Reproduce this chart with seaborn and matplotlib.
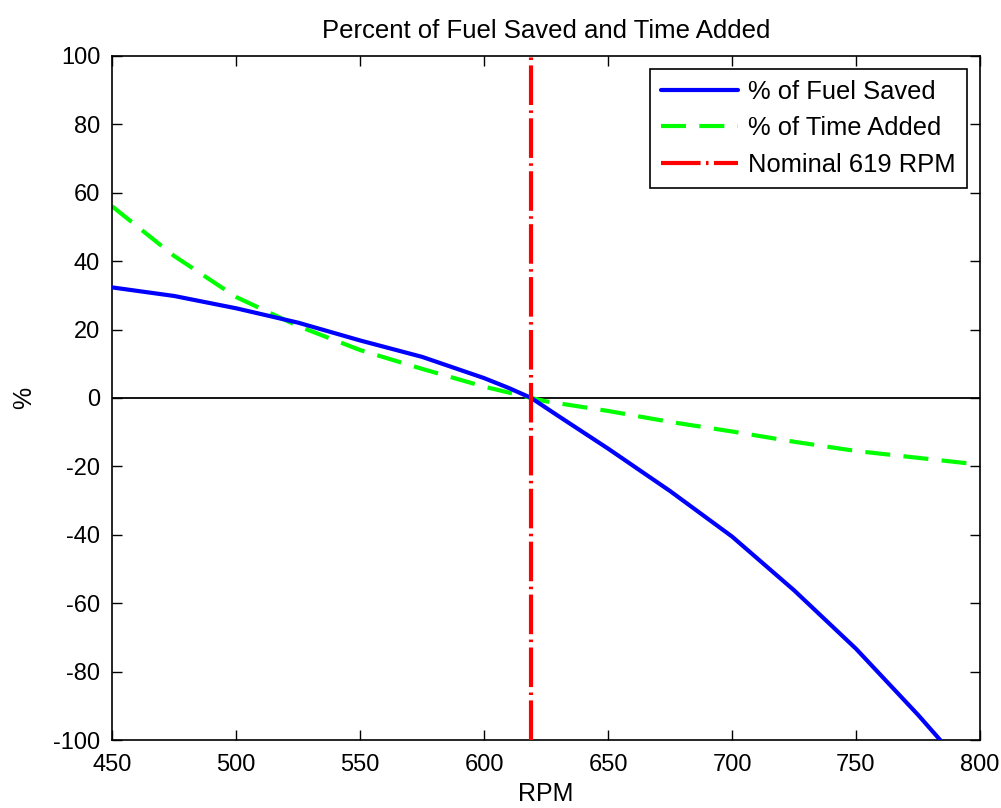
import matplotlib
matplotlib.use("Agg")
import matplotlib.pyplot as plt
import seaborn as sns
import pandas as pd

# Engine speed samples and the percentage curves
rpm_fuel = [450, 475, 500, 525, 550, 575, 600, 610, 619, 630, 650, 675, 700, 725, 750, 775, 784]
fuel_saved = [32.3, 29.8, 26.2, 22.0, 16.8, 12.0, 5.8, 2.9, 0.0, -5.3, -14.8, -27.2, -40.5, -56.2, -73.3, -92.6, -100.0]

rpm_time = [450, 475, 500, 525, 550, 575, 600, 619, 625, 650, 675, 700, 725, 750, 775, 800]
time_added = [56.0, 41.5, 29.5, 21.0, 14.0, 8.5, 3.3, 0.0, -1.0, -3.8, -7.0, -9.8, -12.8, -15.5, -17.5, -19.5]

nominal_rpm = 619

x_ticks = [450, 500, 550, 600, 650, 700, 750, 800]
y_ticks = [-100, -80, -60, -40, -20, 0, 20, 40, 60, 80, 100]

sns.set_theme(style="ticks")
plt.rcParams["font.family"] = ["Liberation Sans", "DejaVu Sans"]
plt.rcParams["axes.unicode_minus"] = False
for key in ("text.color", "axes.labelcolor", "xtick.color", "ytick.color"):
    plt.rcParams[key] = "black"

fuel_df = pd.DataFrame({"RPM": rpm_fuel, "pct": fuel_saved})
time_df = pd.DataFrame({"RPM": rpm_time, "pct": time_added})

fig = plt.figure(figsize=(10.01, 8.08), dpi=100)
ax = fig.add_axes([0.112, 0.084, 0.867, 0.847])

ax.axhline(0, color="black", lw=1.3, zorder=1)

sns.lineplot(data=fuel_df, x="RPM", y="pct", ax=ax, color="#0000ff", lw=3,
             label="% of Fuel Saved", zorder=3)
sns.lineplot(data=time_df, x="RPM", y="pct", ax=ax, color="#00ff00", lw=3,
             label="% of Time Added", zorder=2)
ax.lines[-1].set_dashes((6, 3.2))
ax.axvline(nominal_rpm, color="#ff0000", lw=3, zorder=4,
           label=f"Nominal {nominal_rpm} RPM", dashes=(9.5, 1.3, 0.6, 1.3))

ax.set_xlim(450, 800)
ax.set_ylim(-100, 100)
ax.set_xticks(x_ticks)
ax.set_yticks(y_ticks)
ax.tick_params(direction="in", length=7, width=1, labelsize=17, top=True, right=True)
ax.tick_params(axis="x", pad=10)
ax.tick_params(axis="y", pad=8.6)
for s in ax.spines.values():
    s.set_visible(True)
    s.set_color("black")
    s.set_linewidth(1.2)

ax.set_xlabel("RPM", fontsize=18, labelpad=4)
ax.set_ylabel("%", fontsize=18, labelpad=12)
ax.set_title("Percent of Fuel Saved and Time Added", fontsize=18.5, pad=13)

leg = ax.legend(loc="upper right", fontsize=18.4, frameon=True, fancybox=False,
                edgecolor="black", framealpha=1, borderaxespad=0.5,
                handlelength=3.0, handletextpad=0.4, labelspacing=0.48,
                borderpad=0.45)
leg.get_frame().set_linewidth(1.2)

fig.savefig("out.png", dpi=100, facecolor="white")
